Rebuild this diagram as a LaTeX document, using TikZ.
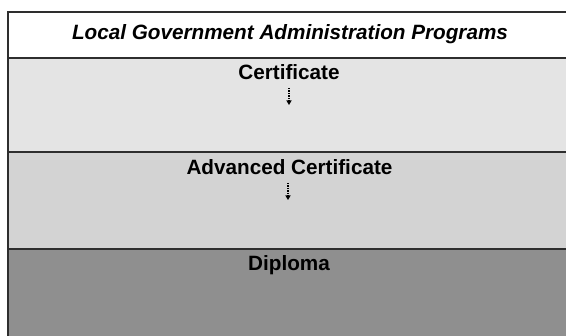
\documentclass[tikz,border=0pt]{standalone}
\usepackage{fontspec}
\setmainfont{Liberation Sans}
\usetikzlibrary{arrows.meta}
\definecolor{lineC}{HTML}{2E2E2E}
\definecolor{certC}{HTML}{E4E4E4}
\definecolor{advC}{HTML}{D3D3D3}
\definecolor{dipC}{HTML}{8F8F8F}
\begin{document}
\begin{tikzpicture}[x=1pt,y=1pt,
  band/.style={draw=lineC,line width=1.6pt,rectangle,anchor=north west,inner sep=0pt,minimum width=570pt},
  lbl/.style={font=\fontsize{20.7}{23}\selectfont\bfseries,text=black,inner sep=0pt,anchor=base},
  darrow/.style={draw=black,line width=1.2pt,dash pattern=on 1.5pt off 1pt,-{Triangle[length=4.5pt,width=5pt]}}]
\useasboundingbox (0,0) rectangle (566,336);
\clip (0,0) rectangle (566,336);
\node[band,fill=white,minimum height=46pt] (hdr) at (7,325) {};
\node[band,fill=certC,minimum height=94pt] (cert) at (7,279) {};
\node[band,fill=advC,minimum height=97pt] (adv) at (7,185) {};
\node[band,fill=dipC,minimum height=96pt] (dip) at (7,88) {};
\node[lbl,font=\fontsize{20.7}{23}\selectfont\bfseries\itshape] (hdrt) at (290,296) {Local Government Administration Programs};
\node[lbl] (certt) at (289,256) {Certificate};
\node[lbl] (advt) at (289.5,161) {Advanced Certificate};
\node[lbl] (dipt) at (289,65) {Diploma};
\coordinate (a1s) at (289,248);
\coordinate (a1e) at (289,231);
\coordinate (a2s) at (288,153);
\coordinate (a2e) at (288,136);
\draw[darrow] (a1s) -- (a1e);
\draw[darrow] (a2s) -- (a2e);
\end{tikzpicture}
\end{document}
